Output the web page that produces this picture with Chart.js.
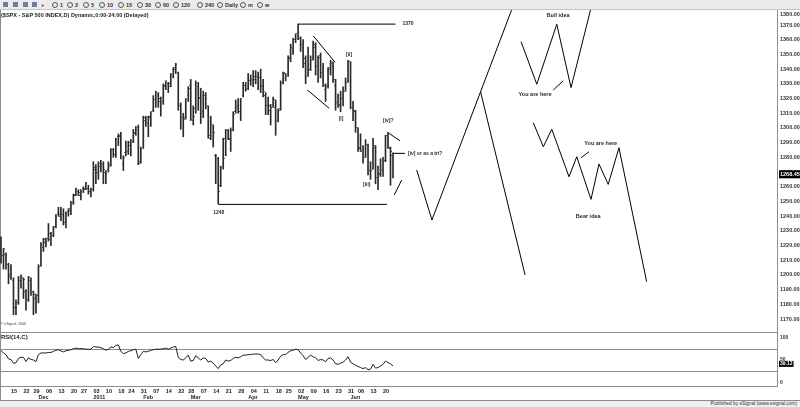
<!DOCTYPE html>
<html lang="en">
<head>
<meta charset="UTF-8">
<title>$SPX daily with RSI</title>
<script src="https://cdn.jsdelivr.net/npm/chart.js"></script>
<style>
  body { margin: 0; width: 800px; height: 407px; position: relative; overflow: hidden; background: #fff;
         font-family: "Liberation Sans", Arial, sans-serif; }
  #toolbar { position: absolute; left: 0; top: 0; width: 800px; height: 9px; background: #ebebeb; border-bottom: 1px solid #c4c4c4; }
  #toolbar .ico { position: absolute; top: 2px; width: 5px; height: 5px; background: #6d7da3; }
  #toolbar .clk { position: absolute; top: 2px; width: 4px; height: 4px; border: 1px solid #555; border-radius: 50%; }
  #toolbar .tb { position: absolute; top: 1px; font-size: 5.5px; font-weight: bold; line-height: 8px; color: #333; }
  #title { position: absolute; left: 1px; top: 12px; font-size: 5.5px; font-weight: bold; color: #222; white-space: nowrap; z-index: 2; }
  #copy { position: absolute; left: 1px; top: 322px; font-size: 3.5px; color: #444; white-space: nowrap; }
  #rsiTitle { position: absolute; left: 1px; top: 334px; font-size: 6px; font-weight: bold; color: #222; z-index: 2; }
  .ln { position: absolute; background: #8c8c8c; }
  #footer { position: absolute; left: 0; top: 401px; width: 800px; height: 6px; background: #efefef; }
  #footer span { position: absolute; right: 3px; top: -1px; font-size: 4.8px; line-height: 7px; color: #333; white-space: nowrap; }
  canvas { position: absolute; left: 0; }
  #priceChart { top: 10px; }
  #rsiChart { top: 333px; }
</style>
</head>
<body>
<div id="toolbar"></div>
<div id="title">($SPX - S&amp;P 500 INDEX,D) Dynamic,0:00-24:00 (Delayed)</div>

<div class="ln" style="left:0;top:10px;width:1px;height:390px"></div>
<div class="ln" style="left:777px;top:10px;width:1px;height:377px"></div>
<div class="ln" style="left:0;top:332px;width:778px;height:1px"></div>
<div class="ln" style="left:0;top:386px;width:778px;height:1px"></div>
<div class="ln" style="left:0;top:400px;width:800px;height:1px"></div>

<canvas id="priceChart" width="800" height="323"></canvas>
<canvas id="rsiChart" width="800" height="67"></canvas>
<div id="copy">&copy; eSignal, 2006</div>
<div id="rsiTitle">RSI(14,C)</div>
<div id="footer"><span>Published by eSignal (www.esignal.com)</span></div>

<script>
// ---- daily bars, 9 Nov 2010 .. 24 Jun 2011 (index 0 = 9 Nov) ----
const open = [
  1223,1213,1214,1207,1200,1196,1178,1181,1196,1198,1189,1183,1196,1189,1184,
  1186,1206,1219,1222,1225,1228,1227,1233,1242,1241,1241,1236,1243,
  1245,1249,1255,1257,1254,1259,1259,1259,1257,
  1258,1273,1270,1274,1275,1270,1272,1275,1285,1282,
  1294,1294,1276,1283,1284,1288,1291,1297,1300,1277,
  1290,1305,1303,1308,1312,1319,1323,1318,1318,1328,1330,1330,1335,1341,
  1338,1315,1307,1307,1322,
  1329,1305,1313,1328,1320,1311,1322,1315,1293,1302,1281,1279,1261,1276,
  1293,1298,1292,1298,1311,1315,1311,1322,1329,1327,
  1332,1332,1335,1334,1334,1329,1322,1315,1312,1316,
  1314,1306,1313,1331,1337,1336,1348,1354,1360,
  1365,1361,1355,1344,1340,1340,1348,1355,1342,1349,
  1334,1326,1329,1341,1342,1329,1318,1315,1321,1325,
  1332,1345,1314,1311,
  1300,1287,1285,1280,1288,1271,1272,1287,1266,1269,
  1271,1278,1294,1286,1281
];
const high = [
  1226,1218,1215,1208,1207,1198,1183,1199,1200,1198,1190,1199,1198,1189,1187,
  1207,1222,1225,1225,1235,1229,1233,1241,1246,1246,1245,1243,1245,
  1250,1255,1259,1258,1258,1260,1263,1261,1259,
  1277,1275,1277,1278,1277,1271,1277,1286,1286,1293,
  1296,1297,1281,1291,1291,1292,1299,1301,1302,1287,
  1308,1308,1308,1311,1322,1325,1324,1321,1330,1332,1331,1337,1341,1344,
  1338,1317,1310,1320,1328,
  1333,1315,1332,1331,1327,1325,1324,1315,1308,1302,1282,1280,1274,1293,
  1299,1299,1300,1311,1319,1320,1320,1331,1331,1337,
  1336,1339,1339,1338,1340,1333,1324,1321,1316,1321,
  1319,1313,1332,1338,1337,1349,1357,1361,1364,
  1370.6,1362,1360,1349,1355,1349,1359,1358,1349,1351,
  1344,1330,1341,1346,1345,1333,1323,1325,1328,1334,
  1346,1345,1318,1312,
  1300,1296,1288,1292,1289,1277,1293,1288,1274,1279,
  1280,1295,1297,1287,1283
];
const low = [
  1208,1204,1204,1194,1197,1173,1173,1180,1191,1184,1176,1182,1186,1173,1174,
  1181,1206,1216,1219,1223,1220,1226,1232,1240,1237,1234,1232,1240,
  1241,1248,1254,1254,1251,1256,1258,1255,1253,
  1257,1262,1265,1270,1262,1262,1270,1274,1280,1280,
  1288,1279,1271,1281,1282,1281,1290,1295,1275,1276,
  1286,1301,1294,1301,1311,1314,1314,1308,1316,1326,1324,1328,1334,1337,
  1312,1299,1294,1306,1318,
  1305,1302,1310,1312,1303,1307,1313,1293,1292,1287,1262,1248.5,1260,1272,
  1281,1292,1284,1298,1310,1310,1305,1321,1325,1326,
  1329,1328,1330,1326,1324,1321,1309,1309,1302,1314,
  1295,1304,1312,1330,1332,1335,1345,1350,1358,
  1360,1352,1341,1330,1335,1339,1346,1336,1331,1334,
  1328,1318,1327,1336,1331,1312,1314,1311,1315,1325,
  1331,1313,1305,1297,
  1284,1284,1276,1280,1268,1265,1272,1262,1258,1267,
  1267,1277,1286,1261,1266
];
const close = [
  1213,1218,1213,1199,1198,1178,1178,1196,1199,1197,1180,1198,1189,1187,1181,
  1206,1221,1224,1223,1224,1228,1233,1240,1240,1241,1236,1242,1244,
  1247,1254,1258,1256,1257,1258,1259,1257,1258,
  1272,1270,1276,1274,1272,1269,1274,1285,1282,1293,
  1295,1281,1280,1283,1290,1292,1296,1299,1276,1286,
  1307,1304,1307,1311,1319,1324,1320,1321,1329,1332,1328,1336,1340,1343,
  1315,1307,1306,1319,1327,
  1306,1308,1330,1321,1310,1322,1320,1295,1304,1297,1281,1257,1273,1279,
  1298,1293,1298,1309,1314,1311,1320,1329,1326,1332,
  1333,1333,1335,1334,1328,1325,1315,1315,1314,1319,
  1305,1312,1330,1338,1335,1347,1355,1360,1364,
  1361,1357,1347,1335,1340,1346,1357,1342,1348,1338,
  1329,1328,1340,1344,1333,1317,1316,1320,1325,1331,
  1345,1314,1312,1300,
  1286,1284,1280,1289,1271,1271,1288,1266,1268,1272,
  1278,1295,1287,1284,1268.45
];
const rsi = [
  68,63,60,52,51,44,45,53,55,55,47,54,51,50,47,
  60,63,63,63,64,64,66,68,69,67,65,67,68,
  69,71,72,71,71,71,70,70,70,
  75,74,74,73,71,68,70,74,73,77,
  78,66,62,63,66,67,69,70,53,60,
  66,65,66,68,69,70,70,70,71,72,70,72,74,75,
  55,51,50,54,59,
  48,49,58,54,50,54,53,46,48,44,39,34,41,43,
  50,48,49,53,55,54,56,59,59,60,
  60,61,61,61,60,54,50,50,49,51,
  45,50,57,60,60,64,67,68,70,
  69,63,58,51,55,59,56,54,49,51,
  50,47,53,54,50,43,42,44,46,50,
  56,46,43,40,
  38,36,34,36,32,33,42,35,36,39,
  42,48,45,43,39.12
];

// ---- axis labels ----
const weekTickIdx = [4,9,13,18,23,28,32,37,42,47,51,56,61,66,71,75,80,85,90,95,100,105,110,114,119,124,129,134,139,143,148,153];
const weekTickLabels = ['15','22','29','06','13','20','27','03','10','18','24','31','07','14','22','28','07','14','21','28','04','11','18','25','02','09','16','23','31','06','13','20'];
const monthTickIdx = [15,37,57,76,99,119,140];
const monthTickLabels = ['Dec','2011','Feb','Mar','Apr','May','Jun'];
const priceTicks = [1380,1370,1360,1350,1340,1330,1320,1310,1300,1290,1280,1270,1260,1250,1240,1230,1220,1210,1200,1190,1180,1170];
const rsiTicks = [100, 50, 0];
const rsiLevels = [70, 30];

// ---- hand drawn annotations (x = bar index, y = price) ----
const topLineX = [119, 158],        topLineY = [1370.6, 1370.6];
const lowLineX = [87, 154.6],       lowLineY = [1248, 1248];
const chanHighX = [125.1, 133.8],   chanHighY = [1362.5, 1344.6];
const chanLowX = [122.7, 131.5],    chanLowY = [1325.8, 1313.3];
const w4TopX = [155.4, 159.8],      w4TopY = [1296.3, 1291.3];
const w4MidX = [157.0, 161.8],      w4MidY = [1282.7, 1282.7];
const w4LowX = [157.5, 160.5],      w4LowY = [1254.4, 1264.6];
const projX = [166.5, 172.6, 204.5], projY = [1271.4, 1237.4, 1380.2];
const dropX = [192.1, 209.9],       dropY = [1324.4, 1200];
const bullX = [208.3, 214.6, 222.6, 228.3, 236.1];
const bullY = [1358.6, 1329.7, 1370.5, 1327.4, 1380.2];
const bullPtrX = [221.2, 225.2],    bullPtrY = [1325.8, 1332.1];
const bearX = [213.2, 217.2, 220.6, 227.5, 230.6, 236.3, 239.5, 243.2, 247.5, 258.6];
const bearY = [1303.5, 1287.2, 1299.1, 1266.8, 1280.4, 1251.4, 1275.5, 1261.6, 1286.5, 1195.4];
const bearPtrX = [232.3, 235.5],    bearPtrY = [1279.7, 1283.8];

const noteText = ['1370', '1248', '[ii]', '[i]', '[iii]', '[iv]?', '[iv] or as a tri?', 'Bull idea', 'You are here', 'You are here', 'Bear idea'];
const noteX = [163.0, 87.2, 139.4, 136.2, 146.5, 155.1, 163.0, 223.1, 213.9, 240.2, 235.2];
const noteY = [1370.7, 1242.3, 1349.8, 1306.3, 1261.2, 1304.7, 1282.3, 1376.3, 1322.9, 1289.5, 1240.1];
const noteAlign = ['center','center','center','center','center','center','left','center','center','center','center'];

const FONT = '"Liberation Sans", Arial, sans-serif';
const xMin = -0.4, xMax = 311.2;

// toolbar (window chrome only)
const tbItems = [[52,'1'],[67,'2'],[83,'5'],[99,'10'],[118,'15'],[137,'30'],[155,'60'],[173,'120'],[197,'240'],[217,'Daily'],[240,'m'],[257,'w']];
const tb = document.getElementById('toolbar');
[3, 13, 23, 32].forEach(l => { const s = document.createElement('span'); s.className = 'ico'; s.style.left = l + 'px'; tb.appendChild(s); });
tb.insertAdjacentHTML('beforeend', '<span class="tb" style="left:41px">+</span>');
tbItems.forEach(([l, t]) => {
  tb.insertAdjacentHTML('beforeend', `<span class="clk" style="left:${l}px"></span><span class="tb" style="left:${l + 8}px">${t}</span>`);
});

// tiny open / close ticks for the OHLC bars
function tickMark(right) {
  const c = document.createElement('canvas');
  c.width = 3; c.height = 1;
  const g = c.getContext('2d');
  g.fillStyle = '#666';
  g.fillRect(right ? 2 : 0, 0, 1, 1);
  return c;
}

function path(xs, ys) {
  return {
    type: 'line', data: xs.map((x, i) => ({ x, y: ys[i] })),
    borderColor: '#000', borderWidth: 1, pointRadius: 0, fill: false, tension: 0
  };
}

const pricePlugin = {
  id: 'priceExtras',
  afterDatasetsDraw(chart) {
    const { ctx, chartArea, scales: { x, y } } = chart;
    ctx.save();
    ctx.textBaseline = 'middle';
    ctx.fillStyle = '#2a2a2a';
    noteText.forEach((t, i) => {
      ctx.font = `bold ${i < 7 ? 5 : 5.5}px ${FONT}`;
      ctx.textAlign = noteAlign[i];
      ctx.fillText(t, x.getPixelForValue(noteX[i]), y.getPixelForValue(noteY[i]));
    });
    // price axis labels
    ctx.font = `bold 5.5px ${FONT}`;
    ctx.textAlign = 'left';
    ctx.fillStyle = '#333';
    priceTicks.forEach(v => {
      const py = Math.max(chartArea.top + 4, y.getPixelForValue(v));
      ctx.fillText(v.toFixed(2), chartArea.right + 2, py);
    });
    // last price tag
    const last = close[close.length - 1];
    const py = y.getPixelForValue(last);
    ctx.fillStyle = '#000';
    ctx.fillRect(chartArea.right + 1, py - 4, 21, 8);
    ctx.fillStyle = '#fff';
    ctx.fillText(last.toFixed(2), chartArea.right + 2, py);
    ctx.restore();
  }
};

new Chart(document.getElementById('priceChart'), {
  type: 'bar',
  data: {
    datasets: [
      { type: 'bar', data: high.map((h, i) => ({ x: i, y: [low[i], h] })), backgroundColor: '#2a2a2a', borderWidth: 0, barThickness: 1 },
      { type: 'line', data: open.map((v, i) => ({ x: i, y: v })), showLine: false, pointStyle: tickMark(false), pointRadius: 1 },
      { type: 'line', data: close.map((v, i) => ({ x: i, y: v })), showLine: false, pointStyle: tickMark(true), pointRadius: 1 },
      path(topLineX, topLineY), path(lowLineX, lowLineY),
      path(chanHighX, chanHighY), path(chanLowX, chanLowY),
      path(w4TopX, w4TopY), path(w4MidX, w4MidY), path(w4LowX, w4LowY),
      path(projX, projY), path(dropX, dropY),
      path(bullX, bullY), path(bullPtrX, bullPtrY),
      path(bearX, bearY), path(bearPtrX, bearPtrY)
    ]
  },
  options: {
    responsive: false, animation: false, devicePixelRatio: 1, events: [],
    layout: { autoPadding: false, padding: { left: 0, right: 0, top: 0, bottom: 1 } },
    plugins: { legend: { display: false }, tooltip: { enabled: false } },
    scales: {
      x: { type: 'linear', min: xMin, max: xMax, offset: false, display: false },
      y: {
        position: 'right', min: 1161.2, max: 1380.2, beginAtZero: false,
        grid: { display: false }, border: { display: false }, ticks: { display: false },
        afterFit: s => { s.width = 22; }
      }
    }
  },
  plugins: [pricePlugin]
});

// ---- RSI panel ----
const axisTicks = [...new Set([...weekTickIdx, ...monthTickIdx])].sort((a, b) => a - b);

const rsiPlugin = {
  id: 'rsiExtras',
  beforeDatasetsDraw(chart) {
    const { ctx, chartArea, scales: { y } } = chart;
    ctx.save();
    ctx.strokeStyle = '#8c8c8c';
    ctx.lineWidth = 1;
    rsiLevels.forEach(v => {
      const py = Math.round(y.getPixelForValue(v)) + 0.5;
      ctx.beginPath(); ctx.moveTo(chartArea.left, py); ctx.lineTo(chartArea.right, py); ctx.stroke();
    });
    ctx.restore();
  },
  afterDatasetsDraw(chart) {
    const { ctx, chartArea, scales: { y } } = chart;
    ctx.save();
    ctx.font = `bold 5px ${FONT}`;
    ctx.textBaseline = 'middle';
    ctx.textAlign = 'left';
    ctx.fillStyle = '#333';
    rsiTicks.forEach(v => {
      const py = Math.min(chartArea.bottom - 4.5, Math.max(chartArea.top + 5, y.getPixelForValue(v)));
      ctx.fillText(String(v), chartArea.right + 2, py);
    });
    const last = rsi[rsi.length - 1];
    const label = last.toFixed(2);
    const py = y.getPixelForValue(last) - 2;
    const w = ctx.measureText(label).width + 2;
    ctx.fillStyle = '#000';
    ctx.fillRect(chartArea.right + 1, py - 3, w, 6);
    ctx.fillStyle = '#fff';
    ctx.fillText(label, chartArea.right + 2, py);
    ctx.restore();
  }
};

new Chart(document.getElementById('rsiChart'), {
  type: 'line',
  data: {
    datasets: [{
      data: rsi.map((v, i) => ({ x: i, y: v })),
      borderColor: '#1e1e1e', borderWidth: 1, pointRadius: 0, tension: 0, fill: false
    }]
  },
  options: {
    responsive: false, animation: false, devicePixelRatio: 1, events: [],
    layout: { autoPadding: false, padding: 0 },
    plugins: { legend: { display: false }, tooltip: { enabled: false } },
    scales: {
      x: {
        type: 'linear', min: xMin, max: xMax, offset: false,
        grid: { display: false, drawTicks: false }, border: { display: false },
        afterBuildTicks: s => { s.ticks = axisTicks.map(v => ({ value: v })); },
        afterFit: s => { s.height = 13; },
        ticks: {
          autoSkip: false, maxRotation: 0, minRotation: 0, align: 'start', padding: 1,
          color: '#222', font: { family: FONT, size: 5.5, weight: 'bold', lineHeight: 1.2 },
          callback: v => {
            const w = weekTickIdx.indexOf(v), m = monthTickIdx.indexOf(v);
            return [w >= 0 ? weekTickLabels[w] : '', m >= 0 ? monthTickLabels[m] : ''];
          }
        }
      },
      y: {
        position: 'right', min: 0, max: 100,
        grid: { display: false }, border: { display: false }, ticks: { display: false },
        afterFit: s => { s.width = 22; }
      }
    }
  },
  plugins: [rsiPlugin]
});
</script>
</body>
</html>
